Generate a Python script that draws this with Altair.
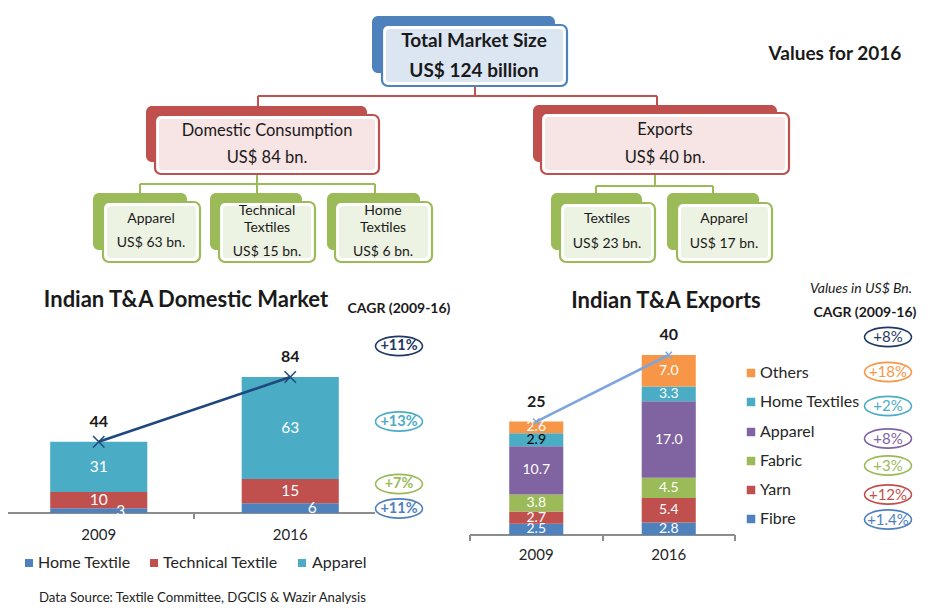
import altair as alt
import pandas as pd

# ---------------- data ----------------
years = ["2009", "2016"]

market_nodes = ["Total Market Size", "Domestic Consumption", "Exports"]
market_values = [124, 84, 40]
domestic_nodes = ["Apparel", "Technical Textiles", "Home Textiles"]
domestic_values = [63, 15, 6]
export_nodes = ["Textiles", "Apparel"]
export_values = [23, 17]

dom_segments = ["Home Textile", "Technical Textile", "Apparel"]
dom_2009 = [3, 10, 31]
dom_2016 = [6, 15, 63]
dom_totals = [44, 84]
dom_cagr = ["+11%", "+13%", "+7%", "+11%"]          # total, apparel, technical, home

exp_segments = ["Fibre", "Yarn", "Fabric", "Apparel", "Home Textiles", "Others"]
exp_2009 = [2.5, 2.7, 3.8, 10.7, 2.9, 2.6]
exp_2016 = [2.8, 5.4, 4.5, 17.0, 3.3, 7.0]
exp_totals = [25, 40]
exp_cagr = ["+8%", "+18%", "+2%", "+8%", "+3%", "+12%", "+1.4%"]  # total, others ... fibre

# ---------------- styles ----------------
FONT = "Lato"
BLUE, RED, GREEN, PURPLE, TEAL, ORANGE = "#4f81bd", "#c0504d", "#9bbb59", "#8064a2", "#4bacc6", "#f79646"
NAVY = "#1f3864"
TXT = "#1a1a1a"
DOM_COLORS = {"Home Textile": BLUE, "Technical Textile": RED, "Apparel": TEAL}
EXP_COLORS = {"Fibre": BLUE, "Yarn": RED, "Fabric": GREEN, "Apparel": PURPLE,
              "Home Textiles": TEAL, "Others": ORANGE}

# canvas scales (page pixel coordinates)
XS = alt.Scale(domain=[8, 932], range=[0, 924], nice=False, zero=False)
YS = alt.Scale(domain=[8, 605], range=[0, 597], nice=False, zero=False)

dom_x = alt.Scale(domain=years, range=[-5, 378], paddingInner=0.493, paddingOuter=0.2465)
dom_y = alt.Scale(domain=[0, 84], range=[505, 369], nice=False)
exp_x = alt.Scale(domain=years, range=[462, 727], paddingInner=0.592, paddingOuter=0.296)
exp_y = alt.Scale(domain=[0, 40], range=[527, 347], nice=False)

# ---------------- layout ----------------
top_layout = [
    dict(back=(372, 555, 16, 73), front=(382, 567, 25, 86), cx=474, ys=[41, 71], color=BLUE, tint="#dce6f2", size=19, bold=True),
    dict(back=(146, 367, 106, 162), front=(155, 379, 115, 174), cx=267, ys=[131, 158], color=RED, tint="#f7e4e4", size=16.5, bold=False),
    dict(back=(533, 777, 105, 162), front=(541, 789, 113, 174), cx=665, ys=[130, 158], color=RED, tint="#f7e4e4", size=16.5, bold=False),
]
dom_layout = [
    dict(back=(93, 187, 193, 250), front=(103, 200, 202, 262), cx=151, ys=[219, 243]),
    dict(back=(210, 302, 193, 250), front=(219, 315, 202, 262), cx=267, ys=[211, 228, 252]),
    dict(back=(327, 420, 193, 250), front=(335, 432, 202, 262), cx=383, ys=[211, 228, 252]),
]
exp_layout = [
    dict(back=(551, 642, 193, 250), front=(560, 655, 203, 262), cx=607, ys=[219, 244]),
    dict(back=(667, 759, 193, 250), front=(677, 772, 203, 262), cx=724, ys=[219, 244]),
]
for d in dom_layout + exp_layout:
    d.update(color=GREEN, tint="#edf3e2", size=14, bold=False)

connectors = [
    (475, 87, 475, 96, RED), (258, 96, 657, 96, RED), (258, 96, 258, 106, RED), (657, 96, 657, 105, RED),
    (257, 174, 257, 184, GREEN), (140, 184, 375, 184, GREEN), (140, 184, 140, 193, GREEN),
    (257, 184, 257, 193, GREEN), (375, 184, 375, 193, GREEN),
    (655, 174, 655, 186, GREEN), (596, 186, 713, 186, GREEN), (596, 186, 596, 193, GREEN),
    (713, 186, 713, 193, GREEN),
    # axis base lines and ticks
    (3, 513, 375, 513, "#8c8c8c"), (3, 513, 3, 519, "#8c8c8c"), (194, 513, 194, 519, "#8c8c8c"),
    (470, 535, 735, 535, "#8c8c8c"), (470, 535, 470, 541, "#8c8c8c"), (603, 535, 603, 541, "#8c8c8c"),
    (735, 535, 735, 541, "#8c8c8c"),
]

# ---------------- build tables ----------------
back_rows, front_rows, inner_rows, text_rows = [], [], [], []
nodes = list(zip(market_nodes, market_values, top_layout)) + \
        list(zip(domestic_nodes, domestic_values, dom_layout)) + \
        list(zip(export_nodes, export_values, exp_layout))
for i, (name, val, lay) in enumerate(nodes):
    bx, bx2, by, by2 = lay["back"]
    fx, fx2, fy, fy2 = lay["front"]
    back_rows.append(dict(x=bx, x2=bx2, y=by, y2=by2, fill=lay["color"]))
    front_rows.append(dict(x=fx, x2=fx2, y=fy, y2=fy2, fill="white", stroke=lay["color"]))
    inner_rows.append(dict(x=fx + 4, x2=fx2 - 4, y=fy + 4, y2=fy2 - 4, fill=lay["tint"]))
    lines = name.split(" ") if len(lay["ys"]) == 3 else [name]
    vtxt = f"US$ {val} billion" if i == 0 else f"US$ {val} bn."
    for t, yy in zip(lines + [vtxt], lay["ys"]):
        text_rows.append(dict(x=lay["cx"], y=yy, text=t, size=lay["size"], bold=lay["bold"], color=TXT))

free_text = [
    ("Values for 2016", 835, 54, 19),
    ("Indian T&A Domestic Market", 186, 300, 22),
    ("CAGR (2009-16)", 399, 309, 14),
    ("Indian T&A Exports", 666, 301, 22),
    ("CAGR (2009-16)", 865, 313, 14),
]
for t, xx, yy, s in free_text:
    text_rows.append(dict(x=xx, y=yy, text=t, size=s, bold=True, color=TXT))

back_df = pd.DataFrame(back_rows)
front_df = pd.DataFrame(front_rows)
inner_df = pd.DataFrame(inner_rows)
text_df = pd.DataFrame(text_rows)
conn_df = pd.DataFrame(connectors, columns=["x", "y", "x2", "y2", "color"])

def cx_(f="x"):
    return alt.X(f"{f}:Q", scale=XS, axis=None)

def cy_(f="y"):
    return alt.Y(f"{f}:Q", scale=YS, axis=None)

layers = []
layers.append(alt.Chart(conn_df).mark_rule(strokeWidth=2).encode(
    x=cx_(), x2="x2:Q", y=cy_(), y2="y2:Q", color=alt.Color("color:N", scale=None)))
layers.append(alt.Chart(back_df).mark_rect(cornerRadius=6).encode(
    x=cx_(), x2="x2:Q", y=cy_(), y2="y2:Q", fill=alt.Fill("fill:N", scale=None)))
layers.append(alt.Chart(front_df).mark_rect(cornerRadius=6, strokeWidth=2.2).encode(
    x=cx_(), x2="x2:Q", y=cy_(), y2="y2:Q", fill=alt.Fill("fill:N", scale=None),
    stroke=alt.Stroke("stroke:N", scale=None)))
layers.append(alt.Chart(inner_df).mark_rect(cornerRadius=3).encode(
    x=cx_(), x2="x2:Q", y=cy_(), y2="y2:Q", fill=alt.Fill("fill:N", scale=None)))

for bold in (True, False):
    sub = text_df[text_df["bold"] == bold]
    layers.append(alt.Chart(sub).mark_text(font=FONT, fontWeight="bold" if bold else "normal",
                                           baseline="middle", align="center").encode(
        x=cx_(), y=cy_(), text="text:N", size=alt.Size("size:Q", scale=None),
        color=alt.Color("color:N", scale=None)))

misc_df = pd.DataFrame([dict(x=861, y=289, text="Values in US$ Bn.")])
layers.append(alt.Chart(misc_df).mark_text(font=FONT, fontStyle="italic", fontSize=14, color=TXT,
                                           baseline="middle", align="center").encode(
    x=cx_(), y=cy_(), text="text:N"))
src_df = pd.DataFrame([dict(x=39, y=597.5, text="Data Source: Textile Committee, DGCIS & Wazir Analysis")])
layers.append(alt.Chart(src_df).mark_text(font=FONT, fontSize=13.2, color="#222222",
                                          baseline="middle", align="left").encode(
    x=cx_(), y=cy_(), text="text:N"))

# ---- CAGR ellipses ----
ELL = "M-1,0A1,0.41,0,1,1,1,0A1,0.41,0,1,1,-1,0Z"
ell_rows = []
for lab, yy, col in zip(dom_cagr, [346, 421.5, 484, 508.5], [NAVY, TEAL, GREEN, BLUE]):
    ell_rows.append(dict(x=399, y=yy, text=lab, color=col, grp="d"))
for lab, yy, col in zip(exp_cagr, [337, 372, 406, 438.5, 465.5, 494.5, 519.5],
                        [NAVY, ORANGE, TEAL, PURPLE, GREEN, RED, BLUE]):
    ell_rows.append(dict(x=888, y=yy, text=lab, color=col, grp="e"))
ell_df = pd.DataFrame(ell_rows)
layers.append(alt.Chart(ell_df).mark_point(shape=ELL, size=47 * 47, filled=False, strokeWidth=1.6, opacity=1).encode(
    x=cx_(), y=cy_(), stroke=alt.Stroke("color:N", scale=None)))
layers.append(alt.Chart(ell_df[ell_df.grp == "d"]).mark_text(font=FONT, fontWeight="bold", fontSize=14.5,
                                                           baseline="middle", align="center").encode(
    x=cx_(), y=cy_(), text="text:N", color=alt.Color("color:N", scale=None)))
layers.append(alt.Chart(ell_df[ell_df.grp == "e"]).mark_text(font=FONT, fontSize=15,
                                                           baseline="middle", align="center").encode(
    x=cx_(), y=cy_(), text="text:N", color=alt.Color("color:N", scale=None)))

# ---- legends ----
dleg = pd.DataFrame(dict(seg=dom_segments, sx=[29, 154, 302], tx=[38, 163, 312], y=[563] * 3))
dleg["color"] = dleg.seg.map(DOM_COLORS)
layers.append(alt.Chart(dleg).mark_square(size=64, opacity=1).encode(
    x=alt.X("sx:Q", scale=XS, axis=None), y=cy_(), color=alt.Color("color:N", scale=None)))
layers.append(alt.Chart(dleg).mark_text(font=FONT, fontSize=16, color="#262626", align="left",
                                        baseline="middle").encode(
    x=alt.X("tx:Q", scale=XS, axis=None), y=cy_(), text="seg:N"))
eleg = pd.DataFrame(dict(seg=exp_segments[::-1], y=[373, 402, 432, 461, 490, 519]))
eleg["sx"] = 751
eleg["tx"] = 760
eleg["color"] = eleg.seg.map(EXP_COLORS)
layers.append(alt.Chart(eleg).mark_square(size=72, opacity=1).encode(
    x=alt.X("sx:Q", scale=XS, axis=None), y=cy_(), color=alt.Color("color:N", scale=None)))
layers.append(alt.Chart(eleg).mark_text(font=FONT, fontSize=16, color="#262626", align="left",
                                        baseline="middle").encode(
    x=alt.X("tx:Q", scale=XS, axis=None), y=cy_(), text="seg:N"))

# ---- stacked bars ----
def stack_table(segments, series, colors):
    rows = []
    for yr, vals in zip(years, series):
        lo = 0.0
        for seg, v in zip(segments, vals):
            rows.append(dict(year=yr, segment=seg, value=v, lo=lo, hi=lo + v, mid=lo + v / 2,
                             color=colors[seg]))
            lo += v
    return pd.DataFrame(rows)

dom_df = stack_table(dom_segments, [dom_2009, dom_2016], DOM_COLORS)
exp_df = stack_table(exp_segments, [exp_2009, exp_2016], EXP_COLORS)
exp_df["lab_color"] = ["black" if (s == "Home Textiles" and y == "2009") else "white"
                       for s, y in zip(exp_df.segment, exp_df.year)]
exp_df["label"] = exp_df.value.map(lambda v: f"{v:.1f}")

dom_tot = pd.DataFrame(dict(year=years, total=dom_df.groupby("year").value.sum().loc[years].values,
                            label=[str(v) for v in dom_totals], zero=0))
exp_tot = pd.DataFrame(dict(year=years, total=exp_df.groupby("year").value.sum().loc[years].values,
                            label=[str(v) for v in exp_totals], zero=0))

def bars(df, xs, ys):
    return alt.Chart(df).mark_bar().encode(
        x=alt.X("year:N", scale=xs, axis=None), y=alt.Y("lo:Q", scale=ys, axis=None), y2="hi:Q",
        color=alt.Color("color:N", scale=None))

layers.append(bars(dom_df, dom_x, dom_y))
layers.append(bars(exp_df, exp_x, exp_y))

layers.append(alt.Chart(dom_df[dom_df.segment != "Home Textile"]).mark_text(
    font=FONT, fontSize=15.5, color="white", baseline="middle").encode(
    x=alt.X("year:N", scale=dom_x, axis=None), y=alt.Y("mid:Q", scale=dom_y, axis=None), text="value:Q"))
layers.append(alt.Chart(dom_df[dom_df.segment == "Home Textile"]).mark_text(
    font=FONT, fontSize=15.5, color="white", baseline="middle", dx=22, dy=0).encode(
    x=alt.X("year:N", scale=dom_x, axis=None), y=alt.Y("mid:Q", scale=dom_y, axis=None), text="value:Q"))
layers.append(alt.Chart(exp_df).mark_text(font=FONT, fontSize=14, baseline="middle").encode(
    x=alt.X("year:N", scale=exp_x, axis=None), y=alt.Y("mid:Q", scale=exp_y, axis=None), text="label:N",
    color=alt.Color("lab_color:N", scale=None)))

XMARK = "M-1,-1L1,1M-1,1L1,-1"
for tot, xs, ys, col, msize in ((dom_tot, dom_x, dom_y, "#1f497d", 130), (exp_tot, exp_x, exp_y, "#7fa6da", 40)):
    enc = dict(x=alt.X("year:N", scale=xs, axis=None), y=alt.Y("total:Q", scale=ys, axis=None))
    layers.append(alt.Chart(tot).mark_line(color=col, strokeWidth=2.6).encode(**enc))
    layers.append(alt.Chart(tot).mark_point(shape=XMARK, size=msize, filled=False, color=col,
                                            strokeWidth=1.5, opacity=1).encode(**enc))
    layers.append(alt.Chart(tot).mark_text(font=FONT, fontWeight="bold", fontSize=16, color=TXT,
                                           dy=-20, baseline="middle").encode(text="label:N", **enc))
    # category (year) labels under each bar chart
    layers.append(alt.Chart(tot).mark_text(font=FONT, fontSize=15, color="#262626", baseline="middle",
                                           dy=22 if tot is dom_tot else 20).encode(
        x=alt.X("year:N", scale=xs, axis=None), y=alt.Y("zero:Q", scale=ys, axis=None), text="year:N"))

chart = alt.layer(*layers).resolve_scale(x="independent", y="independent").properties(
    width=924, height=597, padding=0, autosize=alt.AutoSizeParams(type="none"),
    background="white").configure_view(strokeWidth=0)

chart.save("out.html", embed_options={"renderer": "svg", "actions": False})
